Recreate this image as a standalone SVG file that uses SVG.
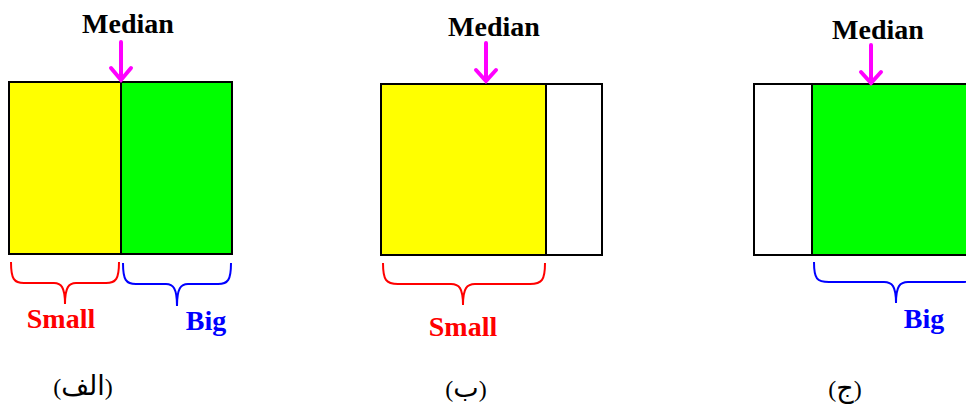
<svg xmlns="http://www.w3.org/2000/svg" width="966" height="408" viewBox="0 0 966 408">
<defs>
<style>
.box{stroke:#000;stroke-width:2}
.arr{stroke:#ff00ff;stroke-width:4;fill:none;stroke-linecap:round;stroke-linejoin:miter}
.brace{fill:none;stroke-width:2}
.lbl{font-family:"Liberation Serif","Times New Roman",serif;font-weight:bold;font-size:28px;text-anchor:middle}
.cap{font-family:"Liberation Serif","DejaVu Sans",serif;font-size:24px;text-anchor:middle;fill:#000}
.ar{font-family:"DejaVu Sans",sans-serif;font-size:27px}
</style>
</defs>
<rect width="966" height="408" fill="#fff"/>
<g id="panelA">
  <rect class="box" x="9" y="82" width="112" height="172" fill="#ffff00"/>
  <rect class="box" x="121" y="82" width="111" height="172" fill="#00ff00"/>
  <text class="lbl" x="128" y="33" fill="#000">Median</text>
  <text class="lbl" x="61" y="328" fill="#ff0000">Small</text>
  <text class="lbl" x="206" y="330" fill="#0000ff">Big</text>
  <text class="cap" x="83" y="395">(<tspan class="ar">الف</tspan>)</text>
</g>
<g id="panelB">
  <rect class="box" x="381" y="84" width="165" height="171" fill="#ffff00"/>
  <rect class="box" x="546" y="84" width="56" height="171" fill="#ffffff"/>
  <text class="lbl" x="494" y="36" fill="#000">Median</text>
  <text class="lbl" x="463" y="336" fill="#ff0000">Small</text>
  <text class="cap" x="466" y="397">(<tspan class="ar">ب</tspan>)</text>
</g>
<g id="panelC">
  <rect class="box" x="754" y="84" width="58" height="171" fill="#ffffff"/>
  <rect class="box" x="812" y="84" width="164" height="171" fill="#00ff00"/>
  <text class="lbl" x="878" y="39" fill="#000">Median</text>
  <text class="lbl" x="924" y="328" fill="#0000ff">Big</text>
  <text class="cap" x="845" y="397">(<tspan class="ar">ج</tspan>)</text>
</g>
<g id="connectors">
  <path class="arr" d="M121,42 V80 M111,68 L121,80 L131,68"/>
  <path class="arr" d="M486,43 V81 M476,70 L486,81 L496,70"/>
  <path class="arr" d="M871,45 V83 M861,72 L871,83 L881,72"/>
  <path class="brace" stroke="#ff0000" d="M11,262 C11,279 14,283 24,283 L54,283 C61,283 65,287 65,304 M119,262 C119,279 116,283 106,283 L76,283 C69,283 65,287 65,304"/>
  <path class="brace" stroke="#0000ff" d="M123,263 C123,280 126,284 136,284 L166,284 C173,284 177,288 177,306 M231,263 C231,280 228,284 218,284 L188,284 C181,284 177,288 177,306"/>
  <path class="brace" stroke="#ff0000" d="M383,263 C383,280 386,284 398,284 L451,284 C459,284 463,288 463,305 M545,263 C545,280 542,284 530,284 L475,284 C467,284 463,288 463,305"/>
  <path class="brace" stroke="#0000ff" d="M814,262 C814,279 817,282 829,282 L884,282 C892,282 896,286 896,303 M977,262 C977,279 974,282 962,282 L908,282 C900,282 896,286 896,303"/>
</g>
</svg>
